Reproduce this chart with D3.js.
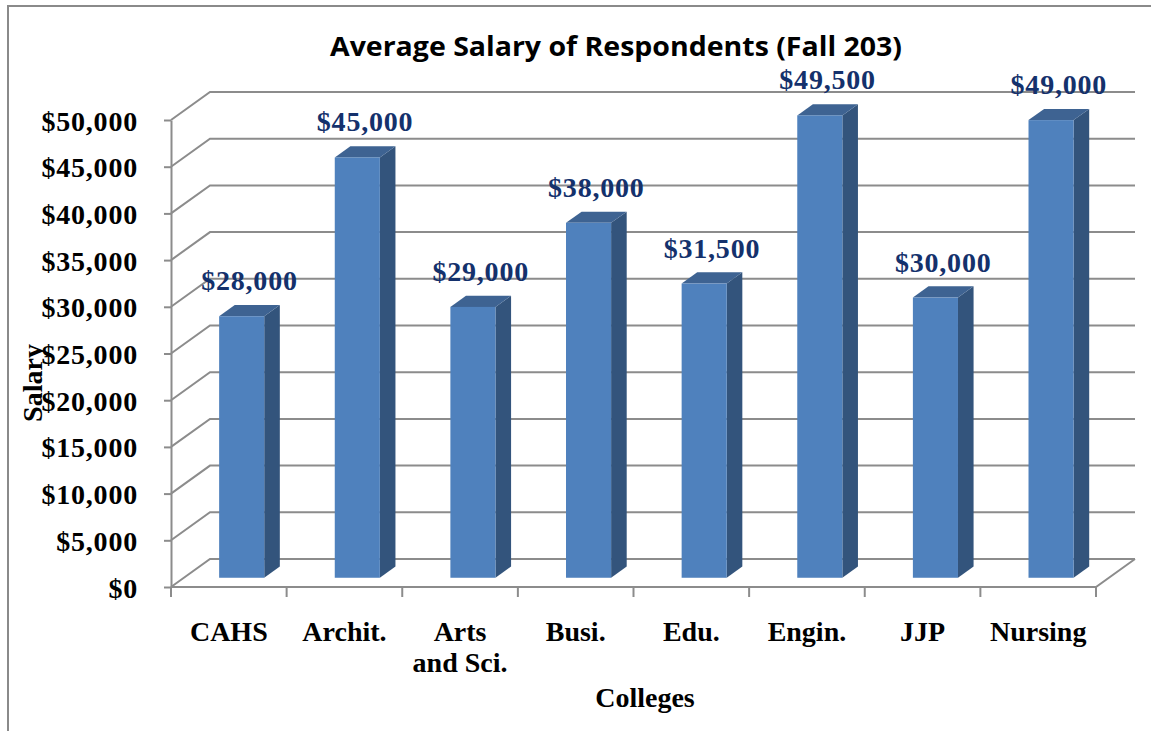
<!DOCTYPE html>
<html>
<head>
<meta charset="utf-8">
<script src="https://cdn.jsdelivr.net/npm/d3@7"></script>
<style>
  html, body { margin: 0; padding: 0; background: #ffffff; }
  svg { display: block; }
</style>
</head>
<body>
<svg id="chart" width="1151" height="731"></svg>
<script>
// ---- data ----
const categories = ["CAHS", "Archit.", "Arts\nand Sci.", "Busi.", "Edu.", "Engin.", "JJP", "Nursing"];
const salaries = [28000, 45000, 29000, 38000, 31500, 49500, 30000, 49000];
const yTickValues = [0, 5000, 10000, 15000, 20000, 25000, 30000, 35000, 40000, 45000, 50000];
const titleText = "Average Salary of Respondents (Fall 203)";
const xTitle = "Colleges";
const yTitle = "Salary";

// ---- layout ----
const W = 1151, H = 731;
const pL = 171, pR = 1096, pB = 587, pT = 120;
const DX = 39, DY = -28;           // depth of the 3D box
const barF0 = 0.33, barF1 = 0.73;  // bar front/back depth fraction
const gridColor = "#8c8c8c";
const serif = "'Liberation Serif', 'Times New Roman', serif";

const svg = d3.select("#chart");

// outer border (top & left visible)
svg.append("path")
  .attr("d", `M8,${H + 5} L8,6 L${W + 5},6`)
  .attr("fill", "none").attr("stroke", "#8a8a8a").attr("stroke-width", 2);

const x = d3.scaleBand().domain(categories).range([pL, pR]).padding(0);
const y = d3.scaleLinear().domain([0, 50000]).range([pB, pT]);

// gridlines: side wall diagonals + back wall horizontals
const grid = svg.append("g").attr("stroke", gridColor).attr("stroke-width", 2).attr("fill", "none");
grid.selectAll("path.g").data(yTickValues).join("path")
  .attr("class", "g")
  .attr("d", d => `M${pL},${y(d)} L${pL + DX},${y(d) + DY} L${pR + DX},${y(d) + DY}`);
// floor front edge and right edge
grid.append("path").attr("d", `M${pL},${pB} L${pR},${pB} L${pR + DX},${pB + DY}`);

// x boundary ticks
const bounds = categories.map(c => x(c)).concat([pR]);
grid.selectAll("line.xt").data(bounds).join("line")
  .attr("class", "xt")
  .attr("x1", d => d).attr("x2", d => d)
  .attr("y1", pB).attr("y2", pB + 10);

// y axis
const yAxis = d3.axisLeft(y)
  .tickValues(yTickValues)
  .tickFormat(d => "$" + d3.format(",")(d))
  .tickSize(7).tickSizeOuter(0).tickPadding(26);
const ya = svg.append("g").attr("transform", `translate(${pL},0)`).call(yAxis);
ya.select(".domain").attr("stroke", gridColor).attr("stroke-width", 2);
ya.selectAll(".tick line").attr("stroke", gridColor).attr("stroke-width", 2);
ya.selectAll(".tick text")
  .attr("fill", "#000").style("font-family", serif).style("font-weight", "bold")
  .style("font-size", "28px").style("letter-spacing", "0.8px").attr("dy", "0.36em");

// bars
const bw = x.bandwidth() * 0.39;
const ox0 = DX * barF0, oy0 = DY * barF0;
const dxs = DX * (barF1 - barF0), dys = DY * (barF1 - barF0);
const bars = svg.append("g");
const data = categories.map((c, i) => ({ c, v: salaries[i] }));
const bx = d => x(d.c) + (x.bandwidth() - bw) / 2 + ox0;
const by0 = pB + oy0;
const byT = d => y(d.v) + oy0;

// side face
bars.selectAll("path.side").data(data).join("path")
  .attr("class", "side")
  .attr("d", d => {
    const xr = bx(d) + bw;
    return `M${xr},${by0} L${xr + dxs},${by0 + dys} L${xr + dxs},${byT(d) + dys} L${xr},${byT(d)} Z`;
  })
  .attr("fill", "#33547c");
// top face
bars.selectAll("path.topface").data(data).join("path")
  .attr("class", "topface")
  .attr("d", d => {
    const xl0 = bx(d), yt = byT(d);
    return `M${xl0},${yt} L${xl0 + dxs},${yt + dys} L${xl0 + bw + dxs},${yt + dys} L${xl0 + bw},${yt} Z`;
  })
  .attr("fill", "#3e6392");
// front face
bars.selectAll("rect.front").data(data).join("rect")
  .attr("class", "front")
  .attr("x", d => bx(d)).attr("y", d => byT(d))
  .attr("width", bw).attr("height", d => by0 - byT(d))
  .attr("fill", "#4f81bd");

// data labels
svg.append("g").selectAll("text").data(data).join("text")
  .attr("x", d => bx(d) + bw / 2 + dxs / 2)
  .attr("y", d => byT(d) - 26)
  .attr("text-anchor", "middle")
  .attr("fill", "#14316c")
  .style("font-family", serif).style("font-weight", "bold").style("font-size", "28px")
  .style("letter-spacing", "0.8px")
  .text(d => "$" + d3.format(",")(d.v));

// x category labels
const xlab = svg.append("g").selectAll("text").data(categories).join("text")
  .attr("x", d => x(d) + x.bandwidth() / 2)
  .attr("y", 641)
  .attr("text-anchor", "middle")
  .attr("fill", "#000")
  .style("font-family", serif).style("font-weight", "bold").style("font-size", "28px");
xlab.each(function(d) {
  const lines = d.split("\n");
  const t = d3.select(this);
  lines.forEach((ln, i) => {
    t.append("tspan").attr("x", x(d) + x.bandwidth() / 2).attr("dy", i === 0 ? 0 : 31).text(ln);
  });
});

// axis titles
svg.append("text")
  .attr("x", 645).attr("y", 707).attr("text-anchor", "middle")
  .style("font-family", serif).style("font-weight", "bold").style("font-size", "28px")
  .text(xTitle);
svg.append("text")
  .attr("transform", "translate(42,383) rotate(-90)")
  .attr("text-anchor", "middle")
  .style("font-family", serif).style("font-weight", "bold").style("font-size", "28px")
  .text(yTitle);

// chart title
svg.append("text")
  .attr("x", 616).attr("y", 56).attr("text-anchor", "middle")
  .attr("textLength", 572).attr("lengthAdjust", "spacingAndGlyphs")
  .style("font-family", "'Open Sans', 'Liberation Sans', sans-serif")
  .style("font-weight", "700").style("font-size", "26px")
  .text(titleText);
</script>
</body>
</html>
